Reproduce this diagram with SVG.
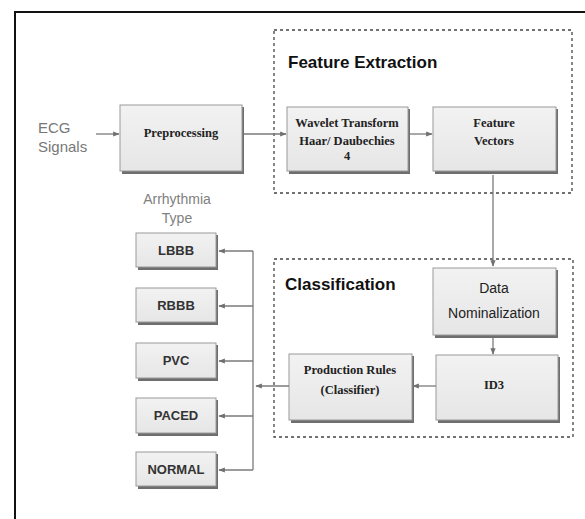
<svg xmlns="http://www.w3.org/2000/svg" width="585" height="519" viewBox="0 0 585 519">
  <defs>
    <marker id="arrow" viewBox="0 0 10 10" refX="9" refY="5" markerWidth="5" markerHeight="5" orient="auto">
      <path d="M0,1 L10,5 L0,9 z" fill="#707070"/>
    </marker>
    <linearGradient id="boxFill" x1="0" y1="0" x2="0" y2="1">
      <stop offset="0" stop-color="#f2f2f2"/>
      <stop offset="1" stop-color="#e6e6e6"/>
    </linearGradient>
  </defs>
  <style>
    .frame { fill: none; stroke: #111; stroke-width: 2; }
    .group { fill: none; stroke: #444; stroke-width: 1.3; stroke-dasharray: 3 3; }
    .shadow { fill: #6e6e6e; }
    .box { fill: url(#boxFill); stroke: #9a9a9a; stroke-width: 1; }
    .edge { fill: none; stroke: #7a7a7a; stroke-width: 1.3; }
    .serif { font-family: "Liberation Serif", "Times New Roman", serif; font-weight: bold; font-size: 12.5px; fill: #222; text-anchor: middle; }
    .sans { font-family: "Liberation Sans", Arial, sans-serif; font-weight: bold; font-size: 13px; fill: #333; text-anchor: middle; }
    .plain { font-family: "Liberation Sans", Arial, sans-serif; font-size: 14px; fill: #222; text-anchor: middle; }
    .title { font-family: "Liberation Sans", Arial, sans-serif; font-weight: bold; font-size: 17px; fill: #111; }
    .note { font-family: "Liberation Sans", Arial, sans-serif; font-size: 14px; fill: #808080; }
    .input { font-family: "Liberation Sans", Arial, sans-serif; font-size: 15px; fill: #777; }
  </style>

  <rect x="15" y="12" width="620" height="560" class="frame"/>

  <!-- dashed stage groups -->
  <g id="feature-extraction">
    <rect x="274" y="30" width="298" height="163" class="group"/>
    <text x="288" y="68" class="title">Feature Extraction</text>
  </g>
  <g id="classification">
    <rect x="274" y="259" width="299" height="178" class="group"/>
    <text x="285" y="290" class="title">Classification</text>
  </g>

  <!-- input label -->
  <g id="ecg-signals">
    <text x="38" y="133" class="input">ECG</text>
    <text x="38" y="152" class="input">Signals</text>
  </g>

  <g id="preprocessing">
    <rect x="122" y="107" width="122" height="67" class="shadow"/>
    <rect x="120" y="105" width="122" height="66" class="box"/>
    <text x="181" y="137" class="serif">Preprocessing</text>
  </g>

  <g id="wavelet">
    <rect x="289" y="109" width="121" height="65" class="shadow"/>
    <rect x="287" y="107" width="121" height="64" class="box"/>
    <text x="347" y="127" class="serif">Wavelet Transform</text>
    <text x="347" y="145" class="serif">Haar/ Daubechies</text>
    <text x="347" y="160" class="serif">4</text>
  </g>

  <g id="feature-vectors">
    <rect x="435" y="109" width="123" height="65" class="shadow"/>
    <rect x="433" y="107" width="123" height="64" class="box"/>
    <text x="494" y="127" class="serif">Feature</text>
    <text x="494" y="145" class="serif">Vectors</text>
  </g>

  <g id="data-nominalization">
    <rect x="435" y="270" width="123" height="68" class="shadow"/>
    <rect x="433" y="268" width="123" height="67" class="box"/>
    <text x="494" y="293" class="plain">Data</text>
    <text x="494" y="318" class="plain">Nominalization</text>
  </g>

  <g id="id3">
    <rect x="438" y="357" width="122" height="66" class="shadow"/>
    <rect x="436" y="355" width="122" height="65" class="box"/>
    <text x="494" y="389" class="serif">ID3</text>
  </g>

  <g id="production-rules">
    <rect x="291" y="356" width="123" height="67" class="shadow"/>
    <rect x="289" y="354" width="123" height="66" class="box"/>
    <text x="350" y="374" class="serif">Production Rules</text>
    <text x="350" y="394" class="serif">(Classifier)</text>
  </g>

  <!-- output classes -->
  <g id="arrhythmia-type">
    <text x="177" y="204" class="note" text-anchor="middle">Arrhythmia</text>
    <text x="177" y="223" class="note" text-anchor="middle">Type</text>
  </g>
  <g id="lbbb">
    <rect x="138" y="235" width="80" height="35" class="shadow"/>
    <rect x="136" y="233" width="80" height="34" class="box"/>
    <text x="176" y="255" class="sans">LBBB</text>
  </g>
  <g id="rbbb">
    <rect x="138" y="290" width="80" height="35" class="shadow"/>
    <rect x="136" y="288" width="80" height="34" class="box"/>
    <text x="176" y="310" class="sans">RBBB</text>
  </g>
  <g id="pvc">
    <rect x="138" y="345" width="80" height="36" class="shadow"/>
    <rect x="136" y="343" width="80" height="35" class="box"/>
    <text x="176" y="365" class="sans">PVC</text>
  </g>
  <g id="paced">
    <rect x="138" y="400" width="80" height="36" class="shadow"/>
    <rect x="136" y="398" width="80" height="35" class="box"/>
    <text x="176" y="420" class="sans">PACED</text>
  </g>
  <g id="normal">
    <rect x="138" y="454" width="80" height="35" class="shadow"/>
    <rect x="136" y="452" width="80" height="34" class="box"/>
    <text x="176" y="474" class="sans">NORMAL</text>
  </g>

  <!-- connectors -->
  <g id="connectors">
    <line x1="96" y1="134" x2="119" y2="134" class="edge" marker-end="url(#arrow)"/>
    <line x1="244" y1="134" x2="286" y2="134" class="edge" marker-end="url(#arrow)"/>
    <line x1="410" y1="134" x2="432" y2="134" class="edge" marker-end="url(#arrow)"/>
    <line x1="493" y1="175" x2="493" y2="266" class="edge" marker-end="url(#arrow)"/>
    <line x1="493" y1="338" x2="493" y2="354" class="edge" marker-end="url(#arrow)"/>
    <line x1="436" y1="386" x2="413" y2="386" class="edge" marker-end="url(#arrow)"/>
    <line x1="289" y1="386" x2="256" y2="386" class="edge" marker-end="url(#arrow)"/>
    <line x1="253" y1="251" x2="253" y2="470" class="edge"/>
    <line x1="253" y1="251" x2="219" y2="251" class="edge" marker-end="url(#arrow)"/>
    <line x1="253" y1="306" x2="219" y2="306" class="edge" marker-end="url(#arrow)"/>
    <line x1="253" y1="361" x2="219" y2="361" class="edge" marker-end="url(#arrow)"/>
    <line x1="253" y1="416" x2="219" y2="416" class="edge" marker-end="url(#arrow)"/>
    <line x1="253" y1="470" x2="219" y2="470" class="edge" marker-end="url(#arrow)"/>
  </g>
</svg>
